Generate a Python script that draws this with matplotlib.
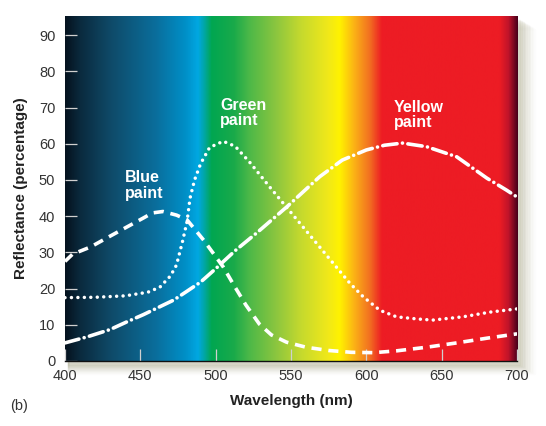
import numpy as np
import matplotlib.pyplot as plt
from matplotlib.colors import LinearSegmentedColormap
from matplotlib.patches import Rectangle
#--------------------------------------------------------------------------------------------------------------------
# Data (wavelength in nm, reflectance in %)
#--------------------------------------------------------------------------------------------------------------------
wl_blue  = [400, 405, 417, 430, 441, 452, 458, 465, 474, 481, 492, 505, 512, 520, 529, 537, 547, 560, 575, 590, 605, 620, 640, 660, 680, 700]
blue     = [27.5, 29.5, 31.5, 34.5, 37, 39.5, 40.9, 41.3, 40.3, 39, 33.4, 26, 21, 15.5, 10.2, 7.2, 5.2, 3.8, 2.9, 2.4, 2.3, 2.8, 3.8, 5.0, 6.3, 7.5]

wl_green = [400, 420, 440, 455, 463, 470, 474, 478, 481, 483, 486, 490, 496, 505, 513, 523, 536, 547, 558, 569, 580, 589, 598, 609, 620, 634, 644, 664, 682, 700]
green    = [17.5, 17.6, 18, 19, 20.4, 23.5, 26.5, 33, 38.5, 45, 50, 54.5, 59, 60.7, 59.3, 54.7, 48, 42.5, 37, 31.5, 26, 21.5, 17.7, 14, 12.2, 11.6, 11.3, 12.2, 13.5, 14.4]

wl_yellow = [400, 415, 430, 441, 452, 463, 472, 480, 490, 500, 513, 527, 547, 569, 584, 600, 612, 624, 640, 660, 680, 693, 700]
yellow    = [5, 6.7, 8.7, 10.8, 12.8, 15, 16.8, 19, 21.8, 25.5, 30.5, 35.3, 42.5, 50.9, 55.5, 58.3, 59.6, 60.2, 59.2, 56.4, 50.5, 47.2, 45.3]

labels   = ['Blue\npaint', 'Green\npaint', 'Yellow\npaint']
label_xy = [(440, 48.5), (503, 68.5), (618, 68.0)]

x_ticks = [400, 450, 500, 550, 600, 650, 700]
y_ticks = [0, 10, 20, 30, 40, 50, 60, 70, 80, 90]
#--------------------------------------------------------------------------------------------------------------------
# Spectrum background colours
#--------------------------------------------------------------------------------------------------------------------
spec_wl  = [400, 410, 430, 460, 480, 488, 492, 497, 512, 522, 540, 556, 574, 582, 592, 602, 610, 688, 694, 700]
spec_col = ['#05121e', '#0a2a3e', '#0f4a68', '#0a6e9c', '#0090c8', '#00a8e2', '#00a6a8', '#00a651', '#1aaa4a',
            '#4cb848', '#8cc63f', '#c4d92e', '#f0e81a', '#fff200', '#fbb016', '#f26f21', '#ed1c24', '#ed1c24',
            '#c0142a', '#4a001c']
#--------------------------------------------------------------------------------------------------------------------
# Plot
#--------------------------------------------------------------------------------------------------------------------
plt.rcParams['font.family'] = ['Liberation Sans', 'DejaVu Sans']
fig = plt.figure(figsize=(5.46, 4.26), dpi=100)
ax = fig.add_axes([0.119, 0.1526, 0.828, 0.8098])
ax.set_zorder(2)

ymax = 95.3
# drop shadow behind the axes
for i in range(10):
    a = 0.10 * (1 - i / 10)
    fig.patches.append(Rectangle((0.119 + 0.006, 0.1526 - 0.009 - i * 0.0025), 0.828 + i * 0.003, 0.8098,
                                 transform=fig.transFigure, color='#a8a684', alpha=a, zorder=-1))

pos = [(w - 400) / 300 for w in spec_wl]
cmap = LinearSegmentedColormap.from_list('spec', list(zip(pos, spec_col)), N=1024)
grad = np.linspace(0, 1, 1200).reshape(1, -1)
ax.imshow(grad, cmap=cmap, extent=[400, 700, 0, ymax], aspect='auto', zorder=0)

ax.plot(wl_blue, blue, color='white', lw=2.6, dashes=(2.8, 1.9), zorder=3)
ax.plot(wl_green, green, color='white', lw=2.5, dashes=(0.01, 1.85), dash_capstyle='round', zorder=3)
ax.plot(wl_yellow, yellow, color='white', lw=2.6, dashes=(4.0, 1.5, 0.01, 1.5), dash_capstyle='round', zorder=3)

for txt, (x, y) in zip(labels, label_xy):
    ax.text(x, y, txt, color='white', fontsize=11.5, fontweight='bold', ha='left', va='center',
            linespacing=1.05, zorder=4)

ax.set_xlim(400, 700)
ax.set_ylim(0, ymax)
ax.set_xticks(x_ticks)
ax.set_yticks(y_ticks)
ax.tick_params(axis='both', direction='in', length=8.5, width=0.9, color='#d0d0d0', labelsize=10.5,
               labelcolor='#333333')
ax.tick_params(axis='y', pad=7)
ax.tick_params(axis='x', pad=6)
for s in ['top', 'right', 'left']:
    ax.spines[s].set_visible(False)
ax.spines['bottom'].set_color('#111111')
ax.spines['bottom'].set_linewidth(1.0)

ax.set_xlabel('Wavelength (nm)', fontsize=11, fontweight='bold', color='#222222', labelpad=8)
ax.set_ylabel('Reflectance (percentage)', fontsize=11, fontweight='bold', color='#222222', labelpad=8)
fig.text(0.018, 0.038, '(b)', fontsize=10.5, color='#333333')

plt.savefig('out.png', dpi=100)
